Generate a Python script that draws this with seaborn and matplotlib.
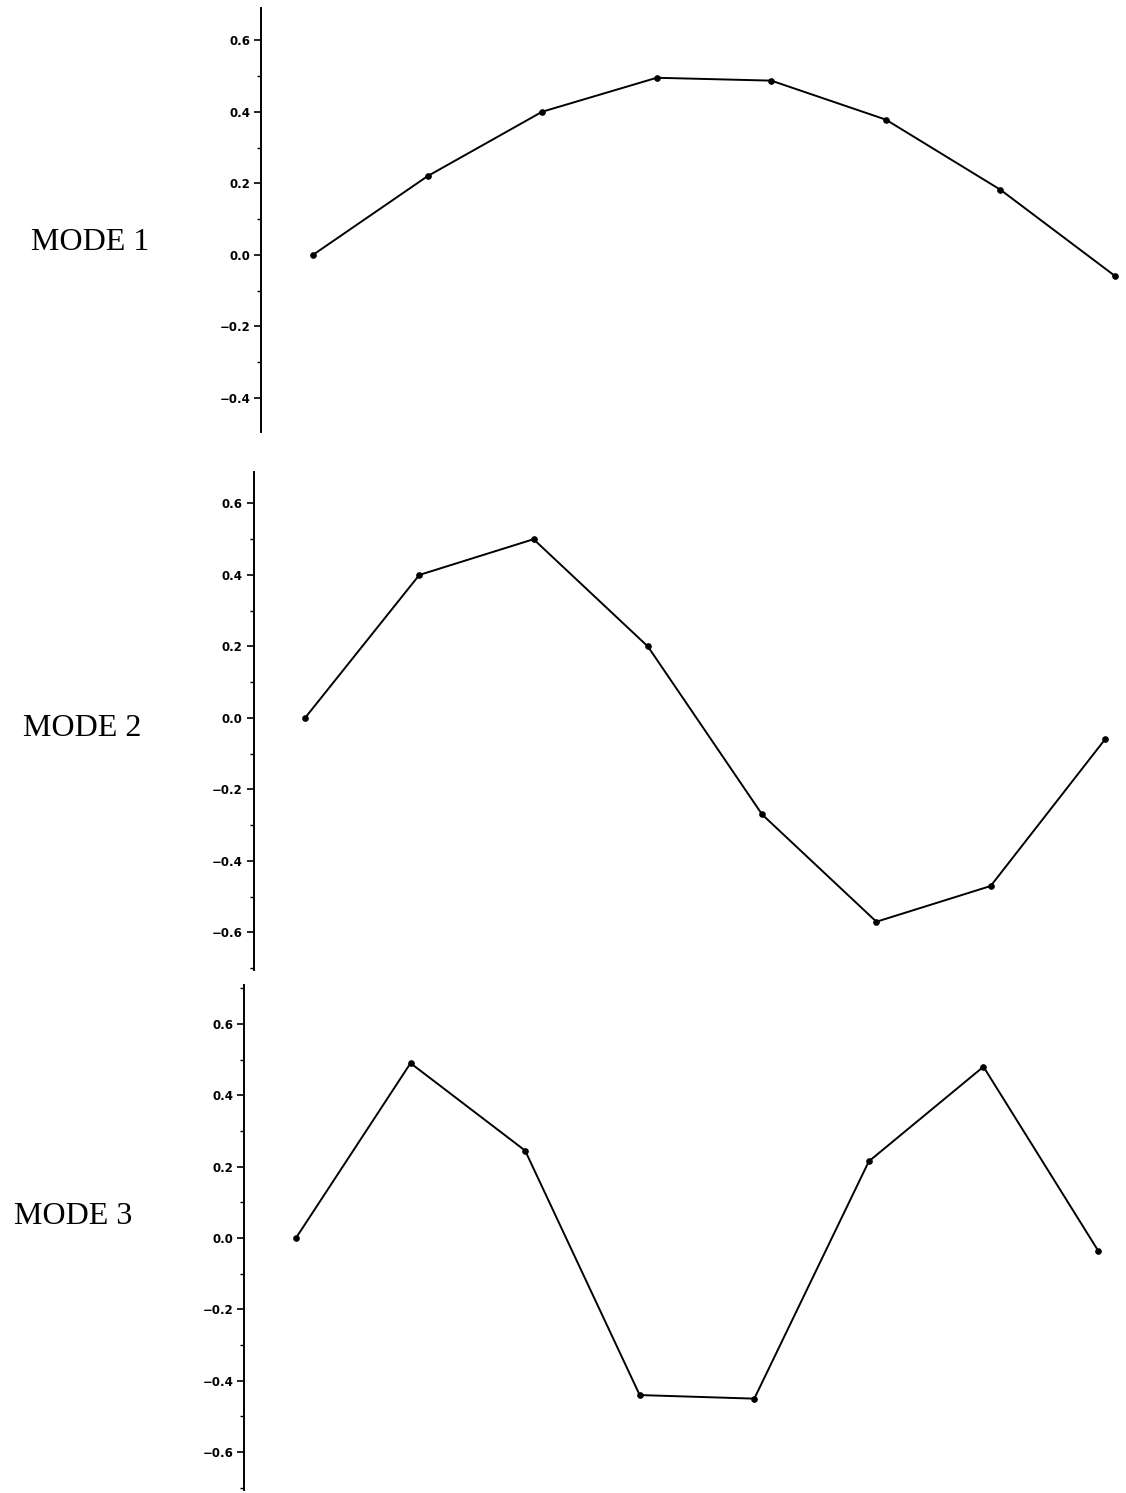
import numpy as np
import pandas as pd
import matplotlib
matplotlib.use("Agg")
import matplotlib.pyplot as plt
import seaborn as sns

# Mode shapes sampled at eight stations
stations = [1, 2, 3, 4, 5, 6, 7, 8]
mode1 = [0.00, 0.22, 0.40, 0.495, 0.487, 0.378, 0.182, -0.059]
mode2 = [0.00, 0.40, 0.50, 0.20, -0.27, -0.57, -0.47, -0.06]
mode3 = [0.00, 0.49, 0.245, -0.44, -0.45, 0.215, 0.48, -0.035]
mode_names = ["MODE 1", "MODE 2", "MODE 3"]
tick_values = [-0.6, -0.4, -0.2, 0.0, 0.2, 0.4, 0.6]

sns.set_style("ticks")
plt.rcParams["text.color"] = "black"
plt.rcParams["ytick.color"] = "black"
plt.rcParams["ytick.labelcolor"] = "black"

W, H = 1126, 1493
fig = plt.figure(figsize=(W / 100, H / 100), dpi=100)

# panel boxes in pixels: left, right, top, bottom, y-limits
panels = [
    dict(left=261.4, right=1126.5, top=8, bottom=432, ylim=(-0.495, 0.69),
         label_xy=(90, 243)),
    dict(left=253.6, right=1116.4, top=472, bottom=970, ylim=(-0.705, 0.688),
         label_xy=(82, 729)),
    dict(left=244.4, right=1109.5, top=985, bottom=1490, ylim=(-0.706, 0.709),
         label_xy=(73, 1217)),
]
series = [mode1, mode2, mode3]

for p, vals, name in zip(panels, series, mode_names):
    ax = fig.add_axes([p["left"] / W, 1 - p["bottom"] / H,
                       (p["right"] - p["left"]) / W,
                       (p["bottom"] - p["top"]) / H])
    df = pd.DataFrame({"station": stations, "value": vals})
    sns.lineplot(data=df, x="station", y="value", ax=ax, color="black",
                 linewidth=1.4, marker="o", markersize=4,
                 markeredgecolor="black", clip_on=False)
    ax.set_xlabel("")
    ax.set_ylabel("")
    ax.set_xticks([])
    lo, hi = p["ylim"]
    ticks = [t for t in tick_values if lo <= t <= hi]
    ax.set_yticks(ticks)
    ax.set_yticklabels([f"{t:.1f}".replace("-", "\u2212") for t in ticks],
                       fontsize=8.5, fontweight="bold", color="black")
    minor = [m for m in np.round(np.arange(-0.7, 0.71, 0.1), 2) if lo <= m <= hi]
    ax.set_yticks(minor, minor=True)
    ax.set_xlim(0.55, 8.1)
    ax.set_ylim(lo, hi)
    ax.tick_params(axis="y", which="major", length=5, width=1.2, pad=3,
                   direction="out", color="black")
    ax.tick_params(axis="y", which="minor", length=3, width=1.0,
                   direction="out", color="black")
    for s in ["top", "right", "bottom"]:
        ax.spines[s].set_visible(False)
    ax.spines["left"].set_linewidth(1.4)
    ax.spines["left"].set_color("black")
    ax.patch.set_alpha(0)
    fig.text(p["label_xy"][0] / W, 1 - p["label_xy"][1] / H, name,
             fontsize=23, family="Liberation Serif", color="black",
             ha="center", va="center")

fig.savefig("out.png", dpi=100, facecolor="white")
